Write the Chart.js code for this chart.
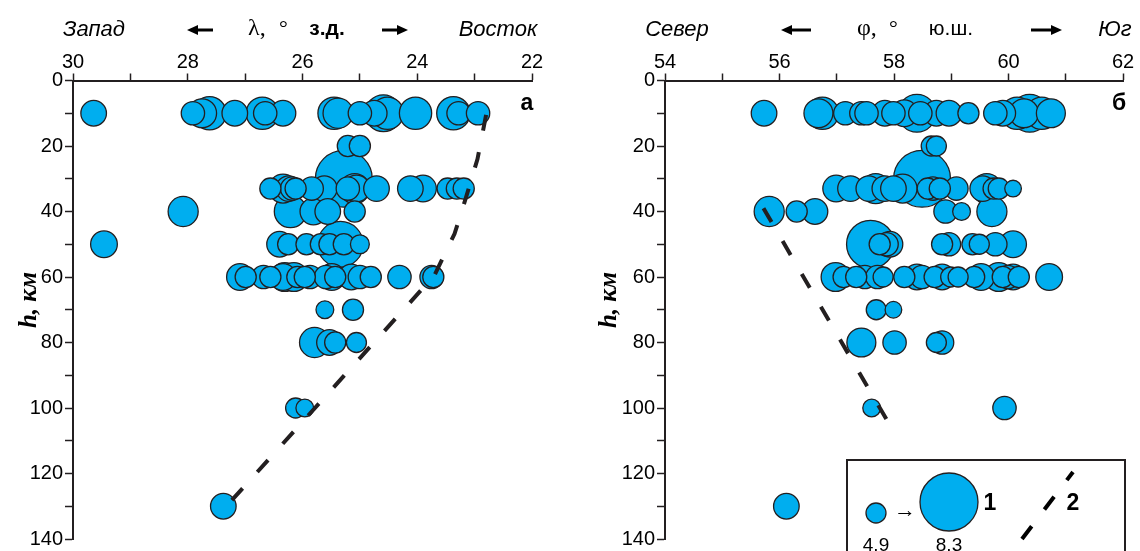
<!DOCTYPE html>
<html>
<head>
<meta charset="utf-8">
<script src="https://cdn.jsdelivr.net/npm/chart.js@4"></script>
<style>
html, body { margin: 0; padding: 0; background: #fff; }
#wrap { position: relative; width: 1140px; height: 551px; overflow: hidden; }
.panel { position: absolute; top: 0; width: 570px; height: 551px; }
</style>
</head>
<body>
<div id="wrap">
  <div class="panel" style="left:0"><canvas id="lon-chart" width="570" height="551"></canvas></div>
  <div class="panel" style="left:570px"><canvas id="lat-chart" width="570" height="551"></canvas></div>
</div>
<script>
/**
 * Hypocentre sections: longitude (а) and latitude (б) vs depth
 */

// panel а: longitude, ° W
const westLon = [
    29.64, 27.91, 27.75, 27.62, 27.18, 26.70, 26.65, 26.34, 25.45, 25.38, 25.00, 24.75, 24.59, 24.52, 24.03, 23.37, 23.28, 22.94,
    25.21, 25.00,
    25.28,
    26.56, 26.34, 26.24, 26.18, 26.12, 25.84, 25.62, 25.21, 25.09, 25.06, 24.71, 24.12, 23.90, 23.47, 23.31, 23.19,
    28.08, 26.21, 25.81, 25.56, 25.09,
    29.46, 26.40, 26.25, 25.93, 25.68, 25.53, 25.34, 25.28, 25.00,
    27.09, 26.99, 26.68, 26.56, 26.34, 26.31, 26.15, 26.09, 25.96, 25.87, 25.59, 25.49, 25.43, 25.15, 25.00, 24.81, 24.31, 23.75, 23.72,
    25.61, 25.12,
    25.79, 25.53, 25.43, 25.06,
    26.12, 25.96,
    27.38
];
const westDepth = [
    10, 10, 10, 10, 10, 10, 10, 10, 10, 10, 10, 10, 10, 10, 10, 10, 10, 10,
    20, 20,
    30,
    33, 33, 33, 33, 33, 33, 33, 33, 33, 33, 33, 33, 33, 33, 33, 33,
    40, 40, 40, 40, 40,
    50, 50, 50, 50, 50, 50, 50, 50, 50,
    60, 60, 60, 60, 60, 60, 60, 60, 60, 60, 60, 60, 60, 60, 60, 60, 60, 60, 60,
    70, 70,
    80, 80, 80, 80,
    100, 100,
    130
];
const westMag = [
    5.4, 5.2, 5.7, 6.1, 5.4, 6.0, 5.2, 5.4, 6.0, 5.8, 5.2, 5.4, 6.4, 6.0, 6.0, 6.1, 5.2, 5.2,
    5.0, 5.0,
    8.2,
    5.0, 5.7, 5.4, 5.2, 5.0, 5.2, 5.4, 5.2, 5.8, 5.5, 5.4, 5.4, 5.5, 5.0, 5.0, 5.0,
    5.8, 6.0, 5.5, 5.4, 5.0,
    5.5, 5.4, 5.0, 5.0, 5.0, 5.0, 7.2, 5.0, 4.8,
    5.5, 5.0, 5.2, 5.0, 5.5, 5.7, 5.7, 5.0, 5.0, 5.2, 5.2, 5.5, 5.0, 5.4, 5.2, 5.0, 5.2, 5.2, 5.0,
    4.7, 5.0,
    5.8, 5.4, 5.0, 4.9,
    4.9, 4.7,
    5.4
];
const westLineLon = [22.8, 22.95, 23.15, 23.35, 23.7, 27.3];
const westLineDepth = [10.5, 24, 35.7, 46.8, 59.5, 129.5];

// panel б: latitude, ° S
const southLat = [
    55.73, 56.68, 56.75, 57.15, 57.43, 57.52, 57.84, 57.99, 58.18, 58.40, 58.46, 58.74, 58.96, 59.30, 59.77, 59.90, 60.15, 60.27, 60.37, 60.58, 60.74,
    58.65, 58.74,
    58.49,
    56.99, 57.24, 57.56, 57.68, 57.84, 57.99, 58.15, 58.59, 58.68, 58.80, 59.09, 59.55, 59.62, 59.74, 59.83, 60.08,
    55.82, 56.30, 56.62, 58.90, 59.18, 59.71,
    57.59, 57.75, 57.87, 57.93, 58.84, 58.96, 59.37, 59.49, 59.77, 60.08,
    56.98, 57.12, 57.34, 57.49, 57.71, 57.81, 58.18, 58.40, 58.49, 58.71, 58.84, 58.99, 59.12, 59.40, 59.52, 59.83, 59.90, 59.99, 60.08, 60.18, 60.71,
    57.69, 57.99,
    57.43, 58.01, 58.74, 58.84,
    57.61, 59.93,
    56.12
];
const southDepth = [
    10, 10, 10, 10, 10, 10, 10, 10, 10, 10, 10, 10, 10, 10, 10, 10, 10, 10, 10, 10, 10,
    20, 20,
    30,
    33, 33, 33, 33, 33, 33, 33, 33, 33, 33, 33, 33, 33, 33, 33, 33,
    40, 40, 40, 40, 40, 40,
    50, 50, 50, 50, 50, 50, 50, 50, 50, 50,
    60, 60, 60, 60, 60, 60, 60, 60, 60, 60, 60, 60, 60, 60, 60, 60, 60, 60, 60, 60, 60,
    70, 70,
    80, 80, 80, 80,
    100, 100,
    130
];
const southMag = [
    5.4, 5.7, 6.0, 5.2, 5.2, 5.2, 5.4, 5.2, 5.5, 6.5, 5.2, 5.4, 5.4, 5.0, 5.2, 5.4, 6.0, 5.7, 6.5, 6.0, 5.7,
    4.9, 4.9,
    8.2,
    5.5, 5.4, 5.4, 5.8, 5.4, 5.4, 5.7, 5.0, 5.2, 5.0, 5.2, 5.4, 5.8, 5.0, 5.0, 4.6,
    5.8, 5.0, 5.4, 5.2, 4.7, 5.8,
    7.4, 5.0, 5.2, 5.4, 5.0, 5.2, 5.0, 4.9, 5.2, 5.5,
    5.7, 5.0, 5.0, 5.2, 5.2, 4.9, 5.0, 5.4, 5.2, 5.0, 5.4, 4.9, 4.9, 5.0, 5.5, 5.7, 5.0, 5.2, 5.4, 5.0, 5.5,
    4.9, 4.6,
    5.7, 5.2, 4.9, 5.2,
    4.7, 5.2,
    5.4
];
const southLineLat = [55.72, 57.87];
const southLineDepth = [39, 103.5];

const legendMags = [4.9, 8.3];

const INK = '#231f20';
const FILL = '#00aeef';

// bubble radius in px from magnitude (legend: 4.9 -> 10px, 8.3 -> 29px)
function magRadius(m) {
    return 10 + (m - 4.9) * 19 / 3.4;
}

function bubbles(xs, ys, ms) {
    return xs.map((x, i) => ({ x: x, y: ys[i], r: magRadius(ms[i]), m: ms[i] }))
        .sort((a, b) => b.m - a.m);
}

function linePoints(xs, ys) {
    return xs.map((x, i) => ({ x: x, y: ys[i] }));
}

function txt(ctx, s, x, y, font, align) {
    ctx.save();
    ctx.font = font;
    ctx.fillStyle = '#000';
    ctx.textAlign = align || 'center';
    ctx.textBaseline = 'alphabetic';
    ctx.fillText(s, x, y);
    ctx.restore();
}

function arrow(ctx, x1, x2, y) {
    const dir = Math.sign(x2 - x1);
    ctx.save();
    ctx.strokeStyle = '#000';
    ctx.fillStyle = '#000';
    ctx.lineWidth = 3;
    ctx.beginPath();
    ctx.moveTo(x1, y);
    ctx.lineTo(x2 - dir * 8, y);
    ctx.stroke();
    ctx.beginPath();
    ctx.moveTo(x2, y);
    ctx.lineTo(x2 - dir * 11, y - 5);
    ctx.lineTo(x2 - dir * 11, y + 5);
    ctx.closePath();
    ctx.fill();
    ctx.restore();
}

function depthTitle(ctx, x, y) {
    ctx.save();
    ctx.translate(x, y);
    ctx.rotate(-Math.PI / 2);
    txt(ctx, 'h, км', 0, 8, 'italic bold 25px "Liberation Serif"', 'center');
    ctx.restore();
}

const italicFont = 'italic 22px Arial';

const westDecor = {
    id: 'westDecor',
    afterDraw(chart) {
        const ctx = chart.ctx;
        txt(ctx, 'Запад', 94, 36, italicFont);
        arrow(ctx, 213, 187, 30);
        txt(ctx, 'λ,', 248, 35, '24px "Liberation Serif"', 'left');
        txt(ctx, '°', 279, 35, '22px "Liberation Serif"', 'left');
        txt(ctx, 'з.д.', 327, 35, 'bold 21px Arial');
        arrow(ctx, 382, 408, 30);
        txt(ctx, 'Восток', 498, 36, italicFont);
        txt(ctx, 'а', 527, 110, 'bold 23px Arial');
        depthTitle(ctx, 28, 300);
    }
};

const southDecor = {
    id: 'southDecor',
    afterDraw(chart) {
        const ctx = chart.ctx;
        const o = 570;
        txt(ctx, 'Север', 677 - o, 36, italicFont);
        arrow(ctx, 811 - o, 781 - o, 30);
        txt(ctx, 'φ,', 857 - o, 35, '24px "Liberation Serif"', 'left');
        txt(ctx, '°', 889 - o, 35, '22px "Liberation Serif"', 'left');
        txt(ctx, 'ю.ш.', 951 - o, 35, '21px Arial');
        arrow(ctx, 1031 - o, 1062 - o, 30);
        txt(ctx, 'Юг', 1115 - o, 36, italicFont);
        txt(ctx, 'б', 1119 - o, 110, 'bold 23px Arial');
        depthTitle(ctx, 608 - o, 300);

        // legend box
        ctx.save();
        ctx.strokeStyle = INK;
        ctx.lineWidth = 2;
        ctx.strokeRect(847 - o, 460, 278, 110);
        ctx.fillStyle = FILL;
        ctx.lineWidth = 1.3;
        [[876, 513, legendMags[0]], [949, 502, legendMags[1]]].forEach(([cx, cy, m]) => {
            ctx.beginPath();
            ctx.arc(cx - o, cy, magRadius(m), 0, Math.PI * 2);
            ctx.fill();
            ctx.stroke();
        });
        ctx.strokeStyle = '#000';
        ctx.lineWidth = 4;
        ctx.setLineDash([16, 21]);
        ctx.beginPath();
        ctx.moveTo(1022 - o, 539);
        ctx.lineTo(1073 - o, 472);
        ctx.stroke();
        ctx.restore();
        txt(ctx, '→', 905 - o, 517, '22px Arial');
        txt(ctx, '1', 990 - o, 510, 'bold 23px Arial');
        txt(ctx, '2', 1073 - o, 510, 'bold 23px Arial');
        txt(ctx, String(legendMags[0]), 876 - o, 551, '19px Arial');
        txt(ctx, String(legendMags[1]), 949 - o, 551, '19px Arial');
    }
};

function createSection(id, cfg) {
    return new Chart(document.getElementById(id), {
        type: 'bubble',
        data: {
            datasets: [
                {
                    type: 'line',
                    data: cfg.line,
                    borderColor: INK,
                    borderWidth: 4,
                    borderDash: [16, 22],
                    pointRadius: 0,
                    fill: false,
                    tension: 0,
                    clip: false,
                    order: 0
                },
                {
                    data: cfg.points,
                    backgroundColor: FILL,
                    borderColor: INK,
                    borderWidth: 1.3,
                    clip: false,
                    order: 1
                }
            ]
        },
        options: {
            responsive: false,
            animation: false,
            events: [],
            layout: { autoPadding: false, padding: { left: 0, top: 0, right: cfg.padRight, bottom: 10.5 } },
            plugins: {
                legend: { display: false },
                tooltip: { enabled: false }
            },
            scales: {
                x: {
                    type: 'linear',
                    position: 'top',
                    min: cfg.xMin,
                    max: cfg.xMax,
                    reverse: cfg.reverse,
                    afterFit: s => { s.height = 80.5; },
                    ticks: {
                        stepSize: 1,
                        autoSkip: false,
                        maxRotation: 0,
                        padding: -1,
                        color: '#000',
                        font: { family: 'Arial', size: 20 },
                        callback: v => v % 2 === 0 ? String(v) : ''
                    },
                    grid: { drawOnChartArea: false, drawTicks: true, tickLength: 7, tickWidth: 1.5, tickColor: INK },
                    border: { display: true, color: INK, width: 2 }
                },
                y: {
                    type: 'linear',
                    min: 0,
                    max: 140,
                    reverse: true,
                    afterFit: s => { s.width = cfg.yWidth; },
                    ticks: {
                        stepSize: 10,
                        autoSkip: false,
                        padding: 2,
                        color: '#000',
                        font: { family: 'Arial', size: 20, lineHeight: 1 },
                        callback: v => v % 20 === 0 ? String(v) : ''
                    },
                    grid: { drawOnChartArea: false, drawTicks: true, tickLength: 8, tickWidth: 1.5, tickColor: INK },
                    border: { display: true, color: INK, width: 2 }
                }
            }
        },
        plugins: [cfg.decor]
    });
}

createSection('lon-chart', {
    points: bubbles(westLon, westDepth, westMag),
    line: linePoints(westLineLon, westLineDepth),
    xMin: 22, xMax: 30, reverse: true,
    yWidth: 73, padRight: 38,
    decor: westDecor
});

createSection('lat-chart', {
    points: bubbles(southLat, southDepth, southMag),
    line: linePoints(southLineLat, southLineDepth),
    xMin: 54, xMax: 62, reverse: false,
    yWidth: 95, padRight: 17,
    decor: southDecor
});
</script>
</body>
</html>
